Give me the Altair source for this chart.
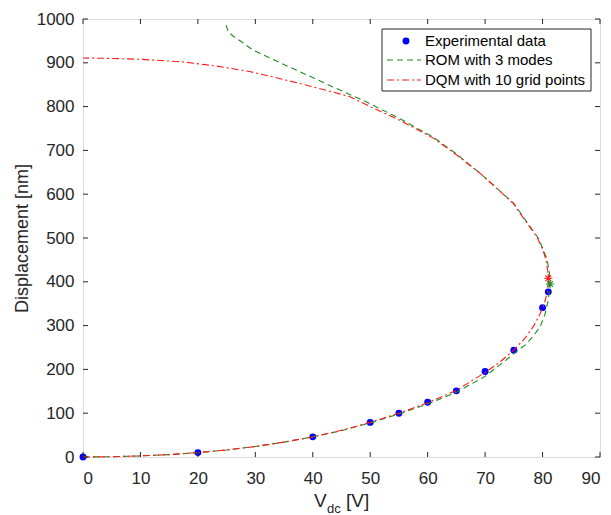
import altair as alt
import pandas as pd

# Experimental data
exp_v = [0, 20, 40, 50, 55, 60, 65, 70, 75, 80, 81]
exp_d = [0, 10, 46, 79, 100, 125, 151, 195, 244, 341, 377]

# ROM with 3 modes (lower branch -> pull-in -> upper branch)
rom_v = [0, 5, 10, 15, 20, 25, 30, 35, 40, 45, 50, 55, 60, 65, 70, 73.7, 75, 77.2, 78.5, 79.6,
         80.4, 81.0, 81.3, 81.2, 80.8, 80.1, 79.1, 77.6, 75.0, 72.0, 69.1, 65.0, 61.0, 55.1,
         49.3, 43.5, 37.7, 33.5, 29.6, 27.6, 26.2, 25.3, 24.7]
rom_d = [0, 0.6, 2.5, 5.5, 10, 16, 24, 34, 46, 60, 78, 98, 121, 148, 184, 222, 236, 258, 278, 298,
         325, 358, 395, 420, 450, 475, 503, 530, 579, 614, 648, 692, 730, 773,
         811, 845, 880, 905, 929, 948, 960, 971, 993]

# DQM with 10 grid points
dqm_v = [0, 5, 10, 15, 20, 25, 30, 35, 40, 45, 50, 55, 60, 65, 70, 72.5, 75, 77, 78.5, 79.5,
         80.3, 80.8, 81.0, 81.0, 80.9, 80.6, 80.0, 79.0, 77.5, 74.9, 72.0, 69.1, 65.0, 61.0,
         55.1, 50.0, 46.4, 41.0, 37.7, 33.0, 29.0, 23.0, 17.4, 10.0, 5.0, 0]
dqm_d = [0, 0.6, 2.5, 5.5, 10, 16, 24, 34, 46, 61, 79, 100, 124, 152, 193, 216, 244, 272, 300, 325,
         350, 375, 395, 408, 425, 450, 475, 503, 530, 579, 614, 648, 690, 728,
         769, 800, 823, 842, 853, 868, 880, 893, 902, 908, 910, 911]

# Pull-in points
star_v = [81.0, 81.3]
star_d = [408, 395]
star_c = ["DQM", "ROM"]

x_ticks = list(range(0, 91, 10))
y_ticks = list(range(0, 1001, 100))

legend_labels = ["Experimental data", "ROM with 3 modes", "DQM with 10 grid points"]

W, H = 517, 438
AX = "#262626"
FONT = "Liberation Sans"
GREEN = "#1e8c1e"
RED = "#ff1a1a"

exp_df = pd.DataFrame({"v": exp_v, "d": exp_d})
rom_df = pd.DataFrame({"v": rom_v, "d": rom_d, "i": range(len(rom_v))})
dqm_df = pd.DataFrame({"v": dqm_v, "d": dqm_d, "i": range(len(dqm_v))})
star_df = pd.DataFrame({"v": star_v, "d": star_d, "s": star_c})
xt_df = pd.DataFrame({"v": x_ticks})
yt_df = pd.DataFrame({"d": y_ticks})

xs = alt.Scale(domain=[0, 90], nice=False)
ys = alt.Scale(domain=[0, 1000], nice=False)

main_x = alt.Axis(values=x_ticks, ticks=False, domain=False, grid=False, labelPadding=13,
                  labelFontSize=17, labelColor=AX, labelFont=FONT, title=None, format="d")
main_y = alt.Axis(values=y_ticks, ticks=False, domain=False, grid=False, labelPadding=9,
                  labelFontSize=17, labelColor=AX, labelFont=FONT, format="d",
                  title="Displacement [nm]", titleFontSize=18, titleFontWeight="normal",
                  titleColor=AX, titleFont=FONT, titlePadding=5)

points = alt.Chart(exp_df).mark_circle(size=48, color="#0000ff", opacity=1).encode(
    x=alt.X("v:Q", scale=xs, axis=main_x),
    y=alt.Y("d:Q", scale=ys, axis=main_y),
)

rom = alt.Chart(rom_df).mark_line(color=GREEN, strokeWidth=1.1, strokeDash=[6, 4]).encode(
    x=alt.X("v:Q", scale=xs),
    y=alt.Y("d:Q", scale=ys),
    order="i:Q",
)

dqm = alt.Chart(dqm_df).mark_line(color=RED, strokeWidth=1.1, strokeDash=[7, 3, 2, 3]).encode(
    x=alt.X("v:Q", scale=xs),
    y=alt.Y("d:Q", scale=ys),
    order="i:Q",
)

ASTER = "M-1,0L1,0M0,-1L0,1M-0.7,-0.7L0.7,0.7M-0.7,0.7L0.7,-0.7"
stars = alt.Chart(star_df).mark_point(shape=ASTER, size=70, filled=False, strokeWidth=1.1, opacity=1).encode(
    x=alt.X("v:Q", scale=xs),
    y=alt.Y("d:Q", scale=ys),
    color=alt.Color("s:N", scale=alt.Scale(domain=["DQM", "ROM"], range=[RED, GREEN]), legend=None),
)

# Inward ticks on all four sides
tk = dict(color=AX, strokeWidth=1)
xt_bot = alt.Chart(xt_df).mark_rule(**tk).encode(x=alt.X("v:Q", scale=xs), y=alt.value(H), y2=alt.value(H - 5))
xt_top = alt.Chart(xt_df).mark_rule(**tk).encode(x=alt.X("v:Q", scale=xs), y=alt.value(0), y2=alt.value(5))
yt_left = alt.Chart(yt_df).mark_rule(**tk).encode(y=alt.Y("d:Q", scale=ys), x=alt.value(0), x2=alt.value(5))
yt_right = alt.Chart(yt_df).mark_rule(**tk).encode(y=alt.Y("d:Q", scale=ys), x=alt.value(W), x2=alt.value(W - 5))

# Manual legend
one = pd.DataFrame({"a": [0]})
leg_box = alt.Chart(one).mark_rect(fill="white", stroke=AX, strokeWidth=1).encode(
    x=alt.value(299), x2=alt.value(508), y=alt.value(10), y2=alt.value(72))
leg_pt = alt.Chart(one).mark_circle(size=48, color="#0000ff", opacity=1).encode(
    x=alt.value(323), y=alt.value(22))
leg_rom = alt.Chart(one).mark_rule(color=GREEN, strokeWidth=1.1, strokeDash=[6, 4]).encode(
    x=alt.value(304), x2=alt.value(338), y=alt.value(41))
leg_dqm = alt.Chart(one).mark_rule(color=RED, strokeWidth=1.1, strokeDash=[7, 3, 2, 3]).encode(
    x=alt.value(304), x2=alt.value(338), y=alt.value(61))
leg_df = pd.DataFrame({"t": legend_labels, "yy": [22, 41, 61]})
leg_txt = alt.Chart(leg_df).mark_text(align="left", baseline="middle", fontSize=15, font=FONT, color="black").encode(
    text="t:N", x=alt.value(342), y=alt.Y("yy:Q", scale=None, axis=None))

# x-axis title with subscript
xt1 = alt.Chart(pd.DataFrame({"t": ["V"]})).mark_text(align="left", baseline="alphabetic", fontSize=19, font=FONT, color=AX).encode(
    text="t:N", x=alt.value(231), y=alt.value(488))
xt2 = alt.Chart(pd.DataFrame({"t": ["dc"]})).mark_text(align="left", baseline="alphabetic", fontSize=13, font=FONT, color=AX).encode(
    text="t:N", x=alt.value(244), y=alt.value(494))
xt3 = alt.Chart(pd.DataFrame({"t": ["[V]"]})).mark_text(align="left", baseline="alphabetic", fontSize=19, font=FONT, color=AX).encode(
    text="t:N", x=alt.value(263), y=alt.value(488))

chart = alt.layer(
    points, rom, dqm, stars, xt_bot, xt_top, yt_left, yt_right,
    leg_box, leg_pt, leg_rom, leg_dqm, leg_txt, xt1, xt2, xt3
).properties(
    width=W, height=H,
    autosize=alt.AutoSizeParams(type="none"),
    padding={"left": 75, "top": 11, "right": 3, "bottom": 58},
).configure_view(stroke=AX, strokeWidth=1).configure(background="white")

chart.save("out.html", embed_options={"renderer": "svg", "actions": False})
